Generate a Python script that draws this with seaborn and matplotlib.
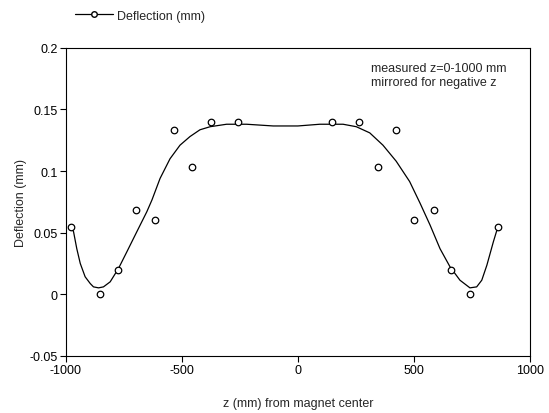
import numpy as np
import pandas as pd
import matplotlib
matplotlib.use("Agg")
import matplotlib.pyplot as plt
from matplotlib.lines import Line2D
from matplotlib.ticker import FuncFormatter
import seaborn as sns

# measured points
z_pts = [-976, -855, -774, -697, -615, -535, -456, -375, -257,
         146, 264, 344, 423, 502, 585, 662, 743, 863]
defl_pts = [0.055, 0.0, 0.020, 0.068, 0.060, 0.133, 0.103, 0.140, 0.140,
            0.140, 0.140, 0.103, 0.133, 0.060, 0.068, 0.020, 0.0, 0.055]

# smooth fitted curve
z_fit = [-976, -967, -953, -938, -917, -895, -881, -859, -838, -809, -773,
         -737, -694, -651, -629, -594, -551, -508, -465, -422, -378, -307,
         -221, -106, 0, 95, 195, 252, 310, 367, 424, 482, 527, 570, 613, 656,
         699, 742, 771, 793, 815, 843, 863]
defl_fit = [0.055, 0.0508, 0.037, 0.025, 0.0142, 0.0087, 0.006, 0.0052,
            0.006, 0.0101, 0.021, 0.0345, 0.0508, 0.067, 0.0765, 0.094,
            0.110, 0.121, 0.128, 0.1335, 0.136, 0.138, 0.138, 0.1366, 0.1366,
            0.138, 0.138, 0.136, 0.131, 0.121, 0.108, 0.0915, 0.0739, 0.0562,
            0.037, 0.0223, 0.0114, 0.0052, 0.006, 0.0114, 0.0236, 0.0426,
            0.055]

pts = pd.DataFrame({"z": z_pts, "d": defl_pts})
fit = pd.DataFrame({"z": z_fit, "d": defl_fit})

sns.set_style("ticks")
plt.rcParams['font.family'] = ['Liberation Sans', 'DejaVu Sans']
plt.rcParams['font.size'] = 9
plt.rcParams['axes.unicode_minus'] = False

fig = plt.figure(figsize=(5.49, 4.14), dpi=100)
ax = fig.add_axes([0.120, 0.138, 0.845, 0.744])

sns.lineplot(data=fit, x="z", y="d", ax=ax, color="black", lw=0.9,
             sort=False, estimator=None)
sns.scatterplot(data=pts, x="z", y="d", ax=ax, marker="o", s=22,
                facecolor="white", edgecolor="black", linewidth=0.9, zorder=3)

ax.set_xlim(-1000, 1000)
ax.set_ylim(-0.05, 0.2)
ax.set_xticks([-1000, -500, 0, 500, 1000])
ax.set_yticks([-0.05, 0, 0.05, 0.1, 0.15, 0.2])
ax.yaxis.set_major_formatter(FuncFormatter(lambda v, p: f"{v:g}"))
ax.tick_params(direction="out", length=4, width=0.8, labelsize=9, pad=2,
               colors="black")
for s in ax.spines.values():
    s.set_linewidth(0.8)
    s.set_color("black")

ax.set_xlabel("z (mm) from magnet center", fontsize=9, labelpad=15)
ax.set_ylabel("Deflection (mm)", fontsize=9, labelpad=2)

ax.text(0.658, 0.955, "measured z=0-1000 mm\nmirrored for negative z",
        transform=ax.transAxes, fontsize=9, va="top", ha="left",
        linespacing=1.2)

handle = Line2D([], [], color="black", lw=0.9, marker="o", markersize=4,
                markerfacecolor="white", markeredgecolor="black")
fig.legend([handle], ["Deflection (mm)"], loc="center left",
           bbox_to_anchor=(0.126, 0.96), frameon=False, fontsize=9,
           handlelength=3.0, handletextpad=0.35, borderpad=0)

fig.savefig("out.png", dpi=100)
